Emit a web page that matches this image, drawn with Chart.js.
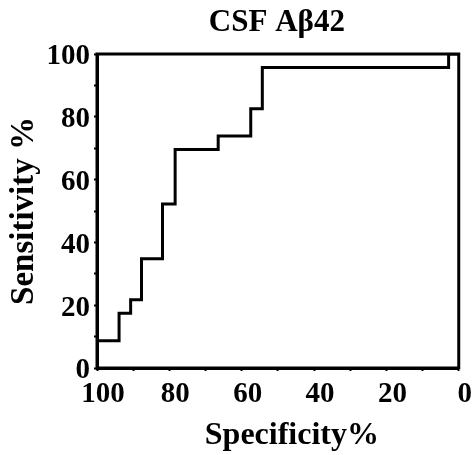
<!DOCTYPE html>
<html>
<head>
<meta charset="utf-8">
<title>CSF Aβ42 ROC</title>
<script src="https://cdn.jsdelivr.net/npm/chart.js@4/dist/chart.umd.min.js"></script>
<style>
    html, body { margin: 0; padding: 0; background: #fff; }
    #wrap { width: 472px; height: 455px; }
</style>
</head>
<body>
<div id="wrap"><canvas id="roc"></canvas></div>
<script>
// ROC curve points (specificity %, sensitivity %)
const specificity = [100, 93.9, 90.7, 87.7, 81.9, 78.4, 66.5, 57.5, 54.3, 2.8, 0];
const sensitivity = [8.7, 17.4, 21.7, 34.8, 52.2, 69.6, 73.9, 82.6, 95.7, 100, 100];
const tickValues = [0, 20, 40, 60, 80, 100];

const chartTitle = 'CSF Aβ42';
const xTitle = 'Specificity%';
const yTitle = 'Sensitivity %';

const FONT = '"Liberation Serif", "Times New Roman", serif';

// frame around the plot + title and x caption
const framePlugin = {
    id: 'frame',
    afterDraw(chart) {
        const { ctx, chartArea: a } = chart;
        const mid = (a.left + a.right) / 2;
        ctx.save();
        ctx.strokeStyle = '#000';
        ctx.lineWidth = 3;
        ctx.strokeRect(a.left, a.top, a.right - a.left, a.bottom - a.top);

        ctx.fillStyle = '#000';
        ctx.textAlign = 'center';
        ctx.textBaseline = 'middle';
        ctx.font = 'bold 31px ' + FONT;
        ctx.fillText(chartTitle, mid - 1, 23);
        ctx.font = 'bold 32px ' + FONT;
        ctx.fillText(xTitle, mid + 14, 436);
        ctx.restore();
    }
};

const ctx = document.getElementById('roc').getContext('2d');
Chart.defaults.font.family = FONT;
Chart.defaults.font.weight = 'bold';
Chart.defaults.color = '#000';

new Chart(ctx, {
    type: 'line',
    data: {
        datasets: [{
            data: specificity.map((s, i) => ({ x: s, y: sensitivity[i] })),
            borderColor: '#000',
            borderWidth: 3,
            pointRadius: 0,
            stepped: 'before',
            fill: false
        }]
    },
    options: {
        responsive: true,
        maintainAspectRatio: false,
        animation: false,
        layout: { padding: { top: 54, right: 12, left: 0, bottom: 0 } },
        plugins: {
            legend: { display: false },
            tooltip: { enabled: false }
        },
        scales: {
            x: {
                type: 'linear',
                reverse: true,
                min: 0,
                max: 100,
                afterFit: scale => { scale.height = 87; },
                border: { display: true, color: '#000', width: 3 },
                grid: {
                    drawOnChartArea: false,
                    drawTicks: true,
                    tickLength: 3,
                    tickWidth: 2,
                    tickColor: '#000'
                },
                ticks: {
                    stepSize: 10,
                    autoSkip: false,
                    maxRotation: 0,
                    padding: 6,
                    labelOffset: 6,
                    font: { size: 29, weight: 'bold' },
                    callback: v => tickValues.includes(v) ? String(v) : ''
                }
            },
            y: {
                type: 'linear',
                min: 0,
                max: 100,
                afterFit: scale => { scale.width = 97; },
                border: { display: true, color: '#000', width: 3 },
                grid: {
                    drawOnChartArea: false,
                    drawTicks: true,
                    tickLength: 3,
                    tickWidth: 2,
                    tickColor: '#000'
                },
                ticks: {
                    stepSize: 10,
                    autoSkip: false,
                    padding: 4,
                    labelOffset: 3,
                    font: { size: 29, weight: 'bold' },
                    callback: v => tickValues.includes(v) ? String(v) : ''
                },
                title: {
                    display: true,
                    text: yTitle,
                    font: { size: 33, weight: 'bold' },
                    padding: { top: 5, bottom: 0 }
                }
            }
        }
    },
    plugins: [framePlugin]
});
</script>
</body>
</html>
